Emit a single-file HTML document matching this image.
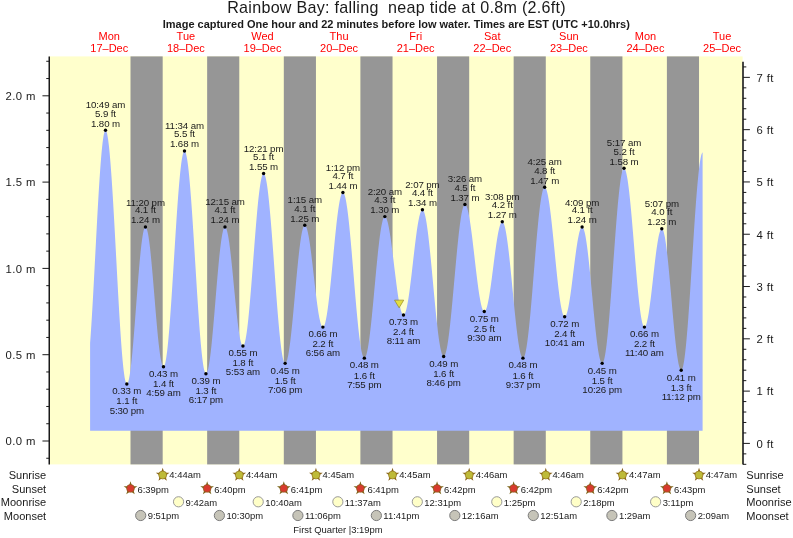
<!DOCTYPE html>
<html><head><meta charset="utf-8"><title>Rainbow Bay tide chart</title>
<style>html,body{margin:0;padding:0;background:#fff;}svg{display:block;will-change:transform;}text{font-family:"Liberation Sans",sans-serif;}</style>
</head><body>
<svg width="793" height="538" viewBox="0 0 793 538" font-family="Liberation Sans, sans-serif">
<rect width="793" height="538" fill="#fff"/>
<rect x="49.0" y="56.4" width="693.60" height="408.00" fill="#FFFFCC"/>
<rect x="130.50" y="56.4" width="32.18" height="408.00" fill="#969696"/>
<rect x="207.15" y="56.4" width="32.13" height="408.00" fill="#969696"/>
<rect x="283.81" y="56.4" width="32.13" height="408.00" fill="#969696"/>
<rect x="360.40" y="56.4" width="32.13" height="408.00" fill="#969696"/>
<rect x="437.06" y="56.4" width="32.13" height="408.00" fill="#969696"/>
<rect x="513.65" y="56.4" width="32.13" height="408.00" fill="#969696"/>
<rect x="590.25" y="56.4" width="32.18" height="408.00" fill="#969696"/>
<rect x="666.90" y="56.4" width="32.13" height="408.00" fill="#969696"/>
<path d="M90.10,430.70 L90.10,343.05 L90.60,336.19 L91.10,328.84 L91.60,321.04 L92.10,312.84 L92.60,304.29 L93.10,295.44 L93.60,286.34 L94.10,277.05 L94.60,267.62 L95.10,258.11 L95.60,248.57 L96.10,239.06 L96.60,229.64 L97.10,220.37 L97.60,211.29 L98.10,202.47 L98.60,193.96 L99.11,185.80 L99.61,178.05 L100.11,170.75 L100.61,163.95 L101.11,157.68 L101.61,151.98 L102.11,146.89 L102.61,142.44 L103.11,138.66 L103.61,135.56 L104.11,133.17 L104.61,131.49 L105.11,130.55 L105.50,130.32 L105.61,130.34 L106.11,130.83 L106.61,132.01 L107.11,133.87 L107.61,136.39 L108.11,139.58 L108.61,143.40 L109.11,147.84 L109.61,152.87 L110.11,158.47 L110.61,164.61 L111.11,171.25 L111.62,178.35 L112.12,185.89 L112.62,193.81 L113.12,202.07 L113.62,210.63 L114.12,219.45 L114.62,228.47 L115.12,237.65 L115.62,246.93 L116.12,256.27 L116.62,265.61 L117.12,274.91 L117.62,284.11 L118.12,293.17 L118.62,302.03 L119.12,310.64 L119.62,318.97 L120.12,326.96 L120.62,334.57 L121.12,341.76 L121.62,348.50 L122.12,354.73 L122.62,360.44 L123.12,365.59 L123.63,370.14 L124.13,374.09 L124.63,377.40 L125.13,380.06 L125.63,382.05 L126.13,383.36 L126.63,383.98 L126.83,384.04 L127.13,383.94 L127.63,383.34 L128.13,382.17 L128.63,380.46 L129.13,378.22 L129.63,375.46 L130.13,372.20 L130.63,368.46 L131.13,364.28 L131.63,359.67 L132.13,354.68 L132.63,349.34 L133.13,343.69 L133.63,337.77 L134.13,331.62 L134.63,325.28 L135.13,318.79 L135.63,312.22 L136.14,305.60 L136.64,298.97 L137.14,292.40 L137.64,285.91 L138.14,279.57 L138.64,273.41 L139.14,267.48 L139.64,261.82 L140.14,256.47 L140.64,251.47 L141.14,246.86 L141.64,242.66 L142.14,238.91 L142.64,235.64 L143.14,232.87 L143.64,230.61 L144.14,228.88 L144.64,227.71 L145.14,227.08 L145.45,226.98 L145.64,227.02 L146.14,227.48 L146.64,228.48 L147.14,230.00 L147.64,232.02 L148.15,234.54 L148.65,237.53 L149.15,240.97 L149.65,244.83 L150.15,249.09 L150.65,253.72 L151.15,258.67 L151.65,263.91 L152.15,269.40 L152.65,275.10 L153.15,280.97 L153.65,286.96 L154.15,293.02 L154.65,299.11 L155.15,305.19 L155.65,311.20 L156.15,317.10 L156.65,322.85 L157.15,328.40 L157.65,333.72 L158.15,338.75 L158.65,343.46 L159.15,347.82 L159.65,351.80 L160.15,355.36 L160.66,358.47 L161.16,361.11 L161.66,363.27 L162.16,364.92 L162.66,366.06 L163.16,366.67 L163.48,366.78 L163.66,366.75 L164.16,366.23 L164.66,365.12 L165.16,363.41 L165.66,361.12 L166.16,358.26 L166.66,354.84 L167.16,350.88 L167.66,346.41 L168.16,341.45 L168.66,336.03 L169.16,330.17 L169.66,323.92 L170.16,317.30 L170.66,310.36 L171.16,303.13 L171.66,295.65 L172.16,287.97 L172.67,280.12 L173.17,272.15 L173.67,264.11 L174.17,256.05 L174.67,247.99 L175.17,240.00 L175.67,232.12 L176.17,224.38 L176.67,216.84 L177.17,209.53 L177.67,202.50 L178.17,195.78 L178.67,189.42 L179.17,183.45 L179.67,177.89 L180.17,172.80 L180.67,168.18 L181.17,164.07 L181.67,160.49 L182.17,157.47 L182.67,155.01 L183.17,153.13 L183.67,151.84 L184.17,151.16 L184.49,151.03 L184.67,151.07 L185.18,151.59 L185.68,152.70 L186.18,154.40 L186.68,156.68 L187.18,159.52 L187.68,162.92 L188.18,166.86 L188.68,171.31 L189.18,176.25 L189.68,181.65 L190.18,187.48 L190.68,193.72 L191.18,200.33 L191.68,207.27 L192.18,214.50 L192.68,222.00 L193.18,229.71 L193.68,237.59 L194.18,245.61 L194.68,253.72 L195.18,261.88 L195.68,270.03 L196.18,278.15 L196.68,286.18 L197.19,294.09 L197.69,301.82 L198.19,309.34 L198.69,316.61 L199.19,323.59 L199.69,330.24 L200.19,336.52 L200.69,342.40 L201.19,347.86 L201.69,352.85 L202.19,357.36 L202.69,361.36 L203.19,364.82 L203.69,367.74 L204.19,370.08 L204.69,371.85 L205.19,373.03 L205.69,373.62 L205.93,373.69 L206.19,373.62 L206.69,373.11 L207.19,372.10 L207.69,370.61 L208.19,368.63 L208.69,366.20 L209.19,363.31 L209.70,359.99 L210.20,356.27 L210.70,352.17 L211.20,347.71 L211.70,342.93 L212.20,337.86 L212.70,332.54 L213.20,326.99 L213.70,321.27 L214.20,315.40 L214.70,309.43 L215.20,303.40 L215.70,297.34 L216.20,291.31 L216.70,285.34 L217.20,279.47 L217.70,273.74 L218.20,268.19 L218.70,262.86 L219.20,257.79 L219.70,253.01 L220.20,248.55 L220.70,244.44 L221.20,240.71 L221.71,237.39 L222.21,234.50 L222.71,232.05 L223.21,230.08 L223.71,228.57 L224.21,227.56 L224.71,227.05 L224.97,226.98 L225.21,227.03 L225.71,227.46 L226.21,228.36 L226.71,229.69 L227.21,231.46 L227.71,233.65 L228.21,236.24 L228.71,239.22 L229.21,242.56 L229.71,246.24 L230.21,250.22 L230.71,254.48 L231.21,258.98 L231.71,263.70 L232.21,268.59 L232.71,273.62 L233.21,278.74 L233.71,283.93 L234.22,289.13 L234.72,294.32 L235.22,299.44 L235.72,304.47 L236.22,309.36 L236.72,314.08 L237.22,318.58 L237.72,322.84 L238.22,326.82 L238.72,330.50 L239.22,333.83 L239.72,336.81 L240.22,339.40 L240.72,341.59 L241.22,343.36 L241.72,344.69 L242.22,345.58 L242.72,346.02 L242.95,346.07 L243.22,346.00 L243.72,345.48 L244.22,344.46 L244.72,342.96 L245.22,340.97 L245.72,338.51 L246.23,335.59 L246.73,332.24 L247.23,328.46 L247.73,324.28 L248.23,319.74 L248.73,314.84 L249.23,309.62 L249.73,304.12 L250.23,298.35 L250.73,292.37 L251.23,286.19 L251.73,279.87 L252.23,273.42 L252.73,266.90 L253.23,260.33 L253.73,253.76 L254.23,247.23 L254.73,240.77 L255.23,234.42 L255.73,228.21 L256.23,222.19 L256.73,216.39 L257.23,210.84 L257.73,205.57 L258.23,200.62 L258.74,196.01 L259.24,191.77 L259.74,187.92 L260.24,184.49 L260.74,181.50 L261.24,178.96 L261.74,176.89 L262.24,175.30 L262.74,174.20 L263.24,173.60 L263.59,173.47 L263.74,173.49 L264.24,173.89 L264.74,174.80 L265.24,176.20 L265.74,178.09 L266.24,180.46 L266.74,183.30 L267.24,186.60 L267.74,190.33 L268.24,194.47 L268.74,199.01 L269.24,203.92 L269.74,209.17 L270.24,214.74 L270.75,220.59 L271.25,226.69 L271.75,233.02 L272.25,239.54 L272.75,246.21 L273.25,253.00 L273.75,259.87 L274.25,266.78 L274.75,273.71 L275.25,280.61 L275.75,287.44 L276.25,294.17 L276.75,300.76 L277.25,307.18 L277.75,313.39 L278.25,319.37 L278.75,325.07 L279.25,330.47 L279.75,335.54 L280.25,340.26 L280.75,344.59 L281.25,348.52 L281.75,352.02 L282.25,355.07 L282.75,357.66 L283.26,359.78 L283.76,361.41 L284.26,362.55 L284.76,363.18 L285.14,363.33 L285.26,363.32 L285.76,362.99 L286.26,362.22 L286.76,361.02 L287.26,359.39 L287.76,357.34 L288.26,354.88 L288.76,352.04 L289.26,348.83 L289.76,345.27 L290.26,341.38 L290.76,337.19 L291.26,332.72 L291.76,328.01 L292.26,323.08 L292.76,317.97 L293.26,312.71 L293.76,307.32 L294.26,301.86 L294.76,296.34 L295.27,290.81 L295.77,285.31 L296.27,279.86 L296.77,274.51 L297.27,269.28 L297.77,264.21 L298.27,259.33 L298.77,254.68 L299.27,250.29 L299.77,246.17 L300.27,242.36 L300.77,238.89 L301.27,235.77 L301.77,233.03 L302.27,230.68 L302.77,228.73 L303.27,227.21 L303.77,226.12 L304.27,225.46 L304.76,225.25 L304.77,225.25 L305.27,225.45 L305.77,226.03 L306.27,226.98 L306.77,228.30 L307.27,229.99 L307.78,232.02 L308.28,234.38 L308.78,237.05 L309.28,240.02 L309.78,243.26 L310.28,246.75 L310.78,250.46 L311.28,254.36 L311.78,258.42 L312.28,262.62 L312.78,266.92 L313.28,271.29 L313.78,275.69 L314.28,280.10 L314.78,284.48 L315.28,288.80 L315.78,293.02 L316.28,297.12 L316.78,301.05 L317.28,304.81 L317.78,308.34 L318.28,311.64 L318.78,314.67 L319.28,317.41 L319.79,319.84 L320.29,321.94 L320.79,323.70 L321.29,325.10 L321.79,326.13 L322.29,326.79 L322.79,327.07 L322.90,327.08 L323.29,326.96 L323.79,326.43 L324.29,325.50 L324.79,324.15 L325.29,322.41 L325.79,320.28 L326.29,317.78 L326.79,314.92 L327.29,311.72 L327.79,308.20 L328.29,304.38 L328.79,300.28 L329.29,295.94 L329.79,291.37 L330.29,286.60 L330.79,281.67 L331.29,276.61 L331.79,271.44 L332.30,266.20 L332.80,260.91 L333.30,255.63 L333.80,250.36 L334.30,245.16 L334.80,240.04 L335.30,235.05 L335.80,230.21 L336.30,225.55 L336.80,221.11 L337.30,216.90 L337.80,212.96 L338.30,209.30 L338.80,205.96 L339.30,202.95 L339.80,200.29 L340.30,198.00 L340.80,196.09 L341.30,194.57 L341.80,193.46 L342.30,192.76 L342.80,192.46 L342.90,192.46 L343.30,192.60 L343.80,193.18 L344.31,194.20 L344.81,195.65 L345.31,197.53 L345.81,199.84 L346.31,202.54 L346.81,205.64 L347.31,209.12 L347.81,212.94 L348.31,217.11 L348.81,221.59 L349.31,226.35 L349.81,231.38 L350.31,236.64 L350.81,242.12 L351.31,247.77 L351.81,253.57 L352.31,259.48 L352.81,265.48 L353.31,271.54 L353.81,277.61 L354.31,283.67 L354.81,289.69 L355.31,295.63 L355.81,301.46 L356.31,307.15 L356.82,312.67 L357.32,317.99 L357.82,323.07 L358.32,327.90 L358.82,332.45 L359.32,336.69 L359.82,340.61 L360.32,344.17 L360.82,347.36 L361.32,350.16 L361.82,352.56 L362.32,354.54 L362.82,356.10 L363.32,357.23 L363.82,357.91 L364.32,358.15 L364.34,358.15 L364.82,357.96 L365.32,357.35 L365.82,356.33 L366.32,354.91 L366.82,353.08 L367.32,350.87 L367.82,348.29 L368.32,345.35 L368.83,342.06 L369.33,338.45 L369.83,334.55 L370.33,330.36 L370.83,325.92 L371.33,321.26 L371.83,316.39 L372.33,311.36 L372.83,306.18 L373.33,300.89 L373.83,295.53 L374.33,290.11 L374.83,284.68 L375.33,279.27 L375.83,273.90 L376.33,268.61 L376.83,263.43 L377.33,258.40 L377.83,253.53 L378.33,248.87 L378.83,244.43 L379.33,240.24 L379.83,236.33 L380.33,232.73 L380.83,229.44 L381.34,226.50 L381.84,223.91 L382.34,221.70 L382.84,219.87 L383.34,218.44 L383.84,217.42 L384.34,216.81 L384.82,216.62 L384.84,216.62 L385.34,216.81 L385.84,217.34 L386.34,218.22 L386.84,219.43 L387.34,220.98 L387.84,222.84 L388.34,225.00 L388.84,227.46 L389.34,230.18 L389.84,233.16 L390.34,236.37 L390.84,239.79 L391.34,243.39 L391.84,247.15 L392.34,251.05 L392.84,255.05 L393.35,259.12 L393.85,263.24 L394.35,267.38 L394.85,271.51 L395.35,275.60 L395.85,279.62 L396.35,283.54 L396.85,287.34 L397.35,290.98 L397.85,294.45 L398.35,297.71 L398.85,300.75 L399.35,303.53 L399.85,306.06 L400.35,308.29 L400.85,310.23 L401.35,311.85 L401.85,313.14 L402.35,314.10 L402.85,314.72 L403.35,314.99 L403.49,315.00 L403.85,314.91 L404.35,314.46 L404.85,313.66 L405.36,312.51 L405.86,311.01 L406.36,309.17 L406.86,307.01 L407.36,304.55 L407.86,301.79 L408.36,298.76 L408.86,295.48 L409.36,291.98 L409.86,288.26 L410.36,284.37 L410.86,280.33 L411.36,276.17 L411.86,271.91 L412.36,267.58 L412.86,263.22 L413.36,258.85 L413.86,254.51 L414.36,250.22 L414.86,246.02 L415.36,241.92 L415.86,237.97 L416.36,234.19 L416.86,230.59 L417.36,227.22 L417.87,224.09 L418.37,221.23 L418.87,218.64 L419.37,216.36 L419.87,214.40 L420.37,212.76 L420.87,211.47 L421.37,210.53 L421.87,209.94 L422.37,209.72 L422.43,209.72 L422.87,209.87 L423.37,210.43 L423.87,211.38 L424.37,212.73 L424.87,214.46 L425.37,216.57 L425.87,219.04 L426.37,221.86 L426.87,225.02 L427.37,228.50 L427.87,232.28 L428.37,236.34 L428.87,240.65 L429.37,245.19 L429.88,249.94 L430.38,254.88 L430.88,259.97 L431.38,265.18 L431.88,270.50 L432.38,275.88 L432.88,281.30 L433.38,286.73 L433.88,292.15 L434.38,297.51 L434.88,302.79 L435.38,307.96 L435.88,313.00 L436.38,317.88 L436.88,322.56 L437.38,327.03 L437.88,331.25 L438.38,335.21 L438.88,338.89 L439.38,342.26 L439.88,345.30 L440.38,348.01 L440.88,350.35 L441.38,352.33 L441.88,353.93 L442.39,355.14 L442.89,355.95 L443.39,356.37 L443.65,356.43 L443.89,356.38 L444.39,355.98 L444.89,355.17 L445.39,353.95 L445.89,352.33 L446.39,350.31 L446.89,347.92 L447.39,345.16 L447.89,342.04 L448.39,338.59 L448.89,334.82 L449.39,330.76 L449.89,326.42 L450.39,321.83 L450.89,317.02 L451.39,312.00 L451.89,306.81 L452.39,301.48 L452.89,296.04 L453.39,290.51 L453.89,284.93 L454.40,279.32 L454.90,273.71 L455.40,268.15 L455.90,262.65 L456.40,257.25 L456.90,251.98 L457.40,246.86 L457.90,241.92 L458.40,237.20 L458.90,232.71 L459.40,228.48 L459.90,224.54 L460.40,220.90 L460.90,217.59 L461.40,214.62 L461.90,212.01 L462.40,209.77 L462.90,207.92 L463.40,206.46 L463.90,205.41 L464.40,204.77 L464.90,204.54 L464.93,204.54 L465.40,204.70 L465.90,205.21 L466.40,206.06 L466.91,207.26 L467.41,208.80 L467.91,210.66 L468.41,212.83 L468.91,215.30 L469.41,218.05 L469.91,221.06 L470.41,224.32 L470.91,227.80 L471.41,231.48 L471.91,235.33 L472.41,239.34 L472.91,243.46 L473.41,247.69 L473.91,251.98 L474.41,256.31 L474.91,260.65 L475.41,264.98 L475.91,269.26 L476.41,273.47 L476.91,277.57 L477.41,281.55 L477.91,285.37 L478.41,289.01 L478.92,292.45 L479.42,295.66 L479.92,298.62 L480.42,301.31 L480.92,303.72 L481.42,305.83 L481.92,307.63 L482.42,309.09 L482.92,310.23 L483.42,311.01 L483.92,311.45 L484.29,311.55 L484.42,311.54 L484.92,311.28 L485.42,310.68 L485.92,309.75 L486.42,308.48 L486.92,306.90 L487.42,305.00 L487.92,302.82 L488.42,300.36 L488.92,297.64 L489.42,294.69 L489.92,291.52 L490.42,288.16 L490.92,284.64 L491.43,280.98 L491.93,277.21 L492.43,273.36 L492.93,269.46 L493.43,265.54 L493.93,261.62 L494.43,257.75 L494.93,253.94 L495.43,250.23 L495.93,246.65 L496.43,243.22 L496.93,239.97 L497.43,236.92 L497.93,234.10 L498.43,231.53 L498.93,229.23 L499.43,227.21 L499.93,225.50 L500.43,224.09 L500.93,223.02 L501.43,222.28 L501.93,221.88 L502.27,221.80 L502.43,221.82 L502.93,222.14 L503.44,222.86 L503.94,223.96 L504.44,225.45 L504.94,227.30 L505.44,229.52 L505.94,232.09 L506.44,234.99 L506.94,238.20 L507.44,241.72 L507.94,245.52 L508.44,249.57 L508.94,253.85 L509.44,258.34 L509.94,263.02 L510.44,267.85 L510.94,272.81 L511.44,277.87 L511.94,282.99 L512.44,288.16 L512.94,293.34 L513.44,298.50 L513.94,303.61 L514.44,308.64 L514.94,313.56 L515.44,318.35 L515.95,322.97 L516.45,327.41 L516.95,331.62 L517.45,335.60 L517.95,339.31 L518.45,342.74 L518.95,345.87 L519.45,348.67 L519.95,351.13 L520.45,353.24 L520.95,354.99 L521.45,356.36 L521.95,357.35 L522.45,357.95 L522.95,358.15 L522.96,358.15 L523.45,357.94 L523.95,357.28 L524.45,356.18 L524.95,354.64 L525.45,352.67 L525.95,350.28 L526.45,347.48 L526.95,344.29 L527.45,340.73 L527.96,336.80 L528.46,332.55 L528.96,327.98 L529.46,323.12 L529.96,317.99 L530.46,312.63 L530.96,307.06 L531.46,301.31 L531.96,295.40 L532.46,289.38 L532.96,283.27 L533.46,277.11 L533.96,270.92 L534.46,264.75 L534.96,258.61 L535.46,252.55 L535.96,246.59 L536.46,240.78 L536.96,235.12 L537.46,229.67 L537.96,224.44 L538.46,219.47 L538.96,214.77 L539.46,210.38 L539.96,206.31 L540.47,202.60 L540.97,199.25 L541.47,196.28 L541.97,193.72 L542.47,191.57 L542.97,189.85 L543.47,188.56 L543.97,187.71 L544.47,187.31 L544.67,187.28 L544.97,187.35 L545.47,187.79 L545.97,188.63 L546.47,189.86 L546.97,191.47 L547.47,193.46 L547.97,195.80 L548.47,198.50 L548.97,201.52 L549.47,204.86 L549.97,208.49 L550.47,212.39 L550.97,216.53 L551.47,220.89 L551.97,225.44 L552.48,230.16 L552.98,235.01 L553.48,239.96 L553.98,245.00 L554.48,250.07 L554.98,255.16 L555.48,260.22 L555.98,265.24 L556.48,270.17 L556.98,274.99 L557.48,279.67 L557.98,284.18 L558.48,288.49 L558.98,292.58 L559.48,296.41 L559.98,299.97 L560.48,303.24 L560.98,306.18 L561.48,308.80 L561.98,311.06 L562.48,312.96 L562.98,314.48 L563.48,315.61 L563.98,316.36 L564.48,316.70 L564.67,316.73 L564.99,316.65 L565.49,316.24 L565.99,315.47 L566.49,314.34 L566.99,312.87 L567.49,311.07 L567.99,308.94 L568.49,306.52 L568.99,303.82 L569.49,300.85 L569.99,297.65 L570.49,294.24 L570.99,290.65 L571.49,286.91 L571.99,283.05 L572.49,279.09 L572.99,275.07 L573.49,271.03 L573.99,267.00 L574.49,263.01 L574.99,259.08 L575.49,255.26 L575.99,251.58 L576.49,248.06 L577.00,244.73 L577.50,241.62 L578.00,238.76 L578.50,236.17 L579.00,233.86 L579.50,231.87 L580.00,230.20 L580.50,228.86 L581.00,227.88 L581.50,227.25 L582.00,226.99 L582.11,226.98 L582.50,227.10 L583.00,227.63 L583.50,228.58 L584.00,229.93 L584.50,231.69 L585.00,233.83 L585.50,236.35 L586.00,239.23 L586.50,242.46 L587.00,246.01 L587.50,249.86 L588.00,253.99 L588.50,258.37 L589.00,262.98 L589.51,267.79 L590.01,272.76 L590.51,277.88 L591.01,283.09 L591.51,288.39 L592.01,293.72 L592.51,299.06 L593.01,304.38 L593.51,309.64 L594.01,314.81 L594.51,319.87 L595.01,324.77 L595.51,329.48 L596.01,333.99 L596.51,338.26 L597.01,342.26 L597.51,345.98 L598.01,349.38 L598.51,352.45 L599.01,355.17 L599.51,357.52 L600.01,359.48 L600.51,361.05 L601.01,362.22 L601.52,362.97 L602.02,363.31 L602.17,363.33 L602.52,363.21 L603.02,362.61 L603.52,361.51 L604.02,359.91 L604.52,357.83 L605.02,355.27 L605.52,352.25 L606.02,348.78 L606.52,344.89 L607.02,340.58 L607.52,335.89 L608.02,330.84 L608.52,325.45 L609.02,319.75 L609.52,313.77 L610.02,307.55 L610.52,301.11 L611.02,294.49 L611.52,287.72 L612.02,280.83 L612.52,273.87 L613.02,266.87 L613.52,259.86 L614.03,252.88 L614.53,245.97 L615.03,239.16 L615.53,232.49 L616.03,225.99 L616.53,219.70 L617.03,213.64 L617.53,207.86 L618.03,202.37 L618.53,197.22 L619.03,192.41 L619.53,187.99 L620.03,183.97 L620.53,180.37 L621.03,177.21 L621.53,174.52 L622.03,172.29 L622.53,170.55 L623.03,169.29 L623.53,168.54 L624.03,168.29 L624.03,168.29 L624.53,168.53 L625.03,169.24 L625.53,170.42 L626.04,172.05 L626.54,174.14 L627.04,176.66 L627.54,179.61 L628.04,182.96 L628.54,186.70 L629.04,190.80 L629.54,195.24 L630.04,199.99 L630.54,205.03 L631.04,210.31 L631.54,215.83 L632.04,221.53 L632.54,227.38 L633.04,233.36 L633.54,239.42 L634.04,245.53 L634.54,251.66 L635.04,257.76 L635.54,263.80 L636.04,269.75 L636.54,275.56 L637.04,281.21 L637.54,286.66 L638.04,291.87 L638.55,296.83 L639.05,301.49 L639.55,305.83 L640.05,309.82 L640.55,313.45 L641.05,316.68 L641.55,319.51 L642.05,321.90 L642.55,323.86 L643.05,325.36 L643.55,326.40 L644.05,326.97 L644.40,327.08 L644.55,327.07 L645.05,326.75 L645.55,326.03 L646.05,324.92 L646.55,323.43 L647.05,321.56 L647.55,319.34 L648.05,316.78 L648.55,313.90 L649.05,310.73 L649.55,307.29 L650.05,303.61 L650.56,299.72 L651.06,295.66 L651.56,291.44 L652.06,287.12 L652.56,282.72 L653.06,278.28 L653.56,273.84 L654.06,269.43 L654.56,265.10 L655.06,260.86 L655.56,256.77 L656.06,252.84 L656.56,249.12 L657.06,245.64 L657.56,242.42 L658.06,239.49 L658.56,236.87 L659.06,234.59 L659.56,232.66 L660.06,231.10 L660.56,229.92 L661.06,229.13 L661.56,228.75 L661.80,228.70 L662.06,228.77 L662.56,229.25 L663.07,230.18 L663.57,231.58 L664.07,233.41 L664.57,235.68 L665.07,238.37 L665.57,241.46 L666.07,244.93 L666.57,248.75 L667.07,252.91 L667.57,257.37 L668.07,262.11 L668.57,267.10 L669.07,272.29 L669.57,277.67 L670.07,283.18 L670.57,288.81 L671.07,294.50 L671.57,300.23 L672.07,305.95 L672.57,311.63 L673.07,317.22 L673.57,322.71 L674.07,328.04 L674.57,333.18 L675.08,338.10 L675.58,342.77 L676.08,347.16 L676.58,351.23 L677.08,354.96 L677.58,358.33 L678.08,361.32 L678.58,363.89 L679.08,366.05 L679.58,367.77 L680.08,369.04 L680.58,369.86 L681.08,370.22 L681.21,370.23 L681.58,370.08 L682.08,369.37 L682.58,368.10 L683.08,366.26 L683.58,363.86 L684.08,360.93 L684.58,357.47 L685.08,353.51 L685.58,349.06 L686.08,344.14 L686.58,338.79 L687.08,333.03 L687.59,326.90 L688.09,320.41 L688.59,313.62 L689.09,306.55 L689.59,299.24 L690.09,291.73 L690.59,284.06 L691.09,276.27 L691.59,268.40 L692.09,260.50 L692.59,252.59 L693.09,244.73 L693.59,236.96 L694.09,229.32 L694.59,221.85 L695.09,214.58 L695.59,207.56 L696.09,200.82 L696.59,194.40 L697.09,188.34 L697.59,182.65 L698.09,177.38 L698.59,172.56 L699.09,168.20 L699.60,164.32 L700.10,160.97 L700.60,158.13 L701.10,155.85 L701.60,154.11 L702.10,152.94 L702.60,152.35 L702.60,430.70 Z" fill="#A0B3FF"/>
<polygon points="394.53,300.14 403.73,300.14 399.13,307.84" fill="#E2DE40" stroke="#8A7A18" stroke-width="0.6"/>
<g font-size="9.7" fill="#1a1a1a" text-anchor="middle" letter-spacing="-0.1">
<circle cx="105.50" cy="130.32" r="1.7" fill="#000"/>
<text x="105.50" y="108.22">10:49 am</text>
<text x="105.50" y="116.72">5.9 ft</text>
<text x="105.50" y="126.62">1.80 m</text>
<circle cx="126.83" cy="384.04" r="1.7" fill="#000"/>
<text x="126.83" y="394.34">0.33 m</text>
<text x="126.83" y="404.44">1.1 ft</text>
<text x="126.83" y="413.84">5:30 pm</text>
<circle cx="145.45" cy="226.98" r="1.7" fill="#000"/>
<text x="145.45" y="205.58">11:20 pm</text>
<text x="145.45" y="213.38">4.1 ft</text>
<text x="145.45" y="223.28">1.24 m</text>
<circle cx="163.48" cy="366.78" r="1.7" fill="#000"/>
<text x="163.48" y="377.08">0.43 m</text>
<text x="163.48" y="387.18">1.4 ft</text>
<text x="163.48" y="396.08">4:59 am</text>
<circle cx="184.49" cy="151.03" r="1.7" fill="#000"/>
<text x="184.49" y="128.93">11:34 am</text>
<text x="184.49" y="137.43">5.5 ft</text>
<text x="184.49" y="147.33">1.68 m</text>
<circle cx="205.93" cy="373.69" r="1.7" fill="#000"/>
<text x="205.93" y="383.99">0.39 m</text>
<text x="205.93" y="394.09">1.3 ft</text>
<text x="205.93" y="403.49">6:17 pm</text>
<circle cx="224.97" cy="226.98" r="1.7" fill="#000"/>
<text x="224.97" y="204.88">12:15 am</text>
<text x="224.97" y="213.38">4.1 ft</text>
<text x="224.97" y="223.28">1.24 m</text>
<circle cx="242.95" cy="346.07" r="1.7" fill="#000"/>
<text x="242.95" y="356.37">0.55 m</text>
<text x="242.95" y="366.47">1.8 ft</text>
<text x="242.95" y="375.37">5:53 am</text>
<circle cx="263.59" cy="173.47" r="1.7" fill="#000"/>
<text x="263.59" y="152.07">12:21 pm</text>
<text x="263.59" y="159.87">5.1 ft</text>
<text x="263.59" y="169.77">1.55 m</text>
<circle cx="285.14" cy="363.33" r="1.7" fill="#000"/>
<text x="285.14" y="373.63">0.45 m</text>
<text x="285.14" y="383.73">1.5 ft</text>
<text x="285.14" y="393.13">7:06 pm</text>
<circle cx="304.76" cy="225.25" r="1.7" fill="#000"/>
<text x="304.76" y="203.15">1:15 am</text>
<text x="304.76" y="211.65">4.1 ft</text>
<text x="304.76" y="221.55">1.25 m</text>
<circle cx="322.90" cy="327.08" r="1.7" fill="#000"/>
<text x="322.90" y="337.38">0.66 m</text>
<text x="322.90" y="347.48">2.2 ft</text>
<text x="322.90" y="356.38">6:56 am</text>
<circle cx="342.90" cy="192.46" r="1.7" fill="#000"/>
<text x="342.90" y="171.06">1:12 pm</text>
<text x="342.90" y="178.86">4.7 ft</text>
<text x="342.90" y="188.76">1.44 m</text>
<circle cx="364.34" cy="358.15" r="1.7" fill="#000"/>
<text x="364.34" y="368.45">0.48 m</text>
<text x="364.34" y="378.55">1.6 ft</text>
<text x="364.34" y="387.95">7:55 pm</text>
<circle cx="384.82" cy="216.62" r="1.7" fill="#000"/>
<text x="384.82" y="194.52">2:20 am</text>
<text x="384.82" y="203.02">4.3 ft</text>
<text x="384.82" y="212.92">1.30 m</text>
<circle cx="403.49" cy="315.00" r="1.7" fill="#000"/>
<text x="403.49" y="325.30">0.73 m</text>
<text x="403.49" y="335.40">2.4 ft</text>
<text x="403.49" y="344.30">8:11 am</text>
<circle cx="422.43" cy="209.72" r="1.7" fill="#000"/>
<text x="422.43" y="188.32">2:07 pm</text>
<text x="422.43" y="196.12">4.4 ft</text>
<text x="422.43" y="206.02">1.34 m</text>
<circle cx="443.65" cy="356.43" r="1.7" fill="#000"/>
<text x="443.65" y="366.73">0.49 m</text>
<text x="443.65" y="376.83">1.6 ft</text>
<text x="443.65" y="386.23">8:46 pm</text>
<circle cx="464.93" cy="204.54" r="1.7" fill="#000"/>
<text x="464.93" y="182.44">3:26 am</text>
<text x="464.93" y="190.94">4.5 ft</text>
<text x="464.93" y="200.84">1.37 m</text>
<circle cx="484.29" cy="311.55" r="1.7" fill="#000"/>
<text x="484.29" y="321.85">0.75 m</text>
<text x="484.29" y="331.95">2.5 ft</text>
<text x="484.29" y="340.85">9:30 am</text>
<circle cx="502.27" cy="221.80" r="1.7" fill="#000"/>
<text x="502.27" y="200.40">3:08 pm</text>
<text x="502.27" y="208.20">4.2 ft</text>
<text x="502.27" y="218.10">1.27 m</text>
<circle cx="522.96" cy="358.15" r="1.7" fill="#000"/>
<text x="522.96" y="368.45">0.48 m</text>
<text x="522.96" y="378.55">1.6 ft</text>
<text x="522.96" y="387.95">9:37 pm</text>
<circle cx="544.67" cy="187.28" r="1.7" fill="#000"/>
<text x="544.67" y="165.18">4:25 am</text>
<text x="544.67" y="173.68">4.8 ft</text>
<text x="544.67" y="183.58">1.47 m</text>
<circle cx="564.67" cy="316.73" r="1.7" fill="#000"/>
<text x="564.67" y="327.03">0.72 m</text>
<text x="564.67" y="337.13">2.4 ft</text>
<text x="564.67" y="346.03">10:41 am</text>
<circle cx="582.11" cy="226.98" r="1.7" fill="#000"/>
<text x="582.11" y="205.58">4:09 pm</text>
<text x="582.11" y="213.38">4.1 ft</text>
<text x="582.11" y="223.28">1.24 m</text>
<circle cx="602.17" cy="363.33" r="1.7" fill="#000"/>
<text x="602.17" y="373.63">0.45 m</text>
<text x="602.17" y="383.73">1.5 ft</text>
<text x="602.17" y="393.13">10:26 pm</text>
<circle cx="624.03" cy="168.29" r="1.7" fill="#000"/>
<text x="624.03" y="146.19">5:17 am</text>
<text x="624.03" y="154.69">5.2 ft</text>
<text x="624.03" y="164.59">1.58 m</text>
<circle cx="644.40" cy="327.08" r="1.7" fill="#000"/>
<text x="644.40" y="337.38">0.66 m</text>
<text x="644.40" y="347.48">2.2 ft</text>
<text x="644.40" y="356.38">11:40 am</text>
<circle cx="661.80" cy="228.70" r="1.7" fill="#000"/>
<text x="661.80" y="207.30">5:07 pm</text>
<text x="661.80" y="215.10">4.0 ft</text>
<text x="661.80" y="225.00">1.23 m</text>
<circle cx="681.21" cy="370.23" r="1.7" fill="#000"/>
<text x="681.21" y="380.53">0.41 m</text>
<text x="681.21" y="390.63">1.3 ft</text>
<text x="681.21" y="400.03">11:12 pm</text>
</g>
<line x1="49.25" y1="56.4" x2="49.25" y2="464.4" stroke="#1a1a1a" stroke-width="1.5"/>
<line x1="46.25" y1="458.26" x2="49.25" y2="458.26" stroke="#1a1a1a" stroke-width="1"/>
<line x1="42.45" y1="441.00" x2="49.25" y2="441.00" stroke="#1a1a1a" stroke-width="1"/>
<line x1="46.25" y1="423.74" x2="49.25" y2="423.74" stroke="#1a1a1a" stroke-width="1"/>
<line x1="46.25" y1="406.48" x2="49.25" y2="406.48" stroke="#1a1a1a" stroke-width="1"/>
<line x1="46.25" y1="389.22" x2="49.25" y2="389.22" stroke="#1a1a1a" stroke-width="1"/>
<line x1="46.25" y1="371.96" x2="49.25" y2="371.96" stroke="#1a1a1a" stroke-width="1"/>
<line x1="42.45" y1="354.70" x2="49.25" y2="354.70" stroke="#1a1a1a" stroke-width="1"/>
<line x1="46.25" y1="337.44" x2="49.25" y2="337.44" stroke="#1a1a1a" stroke-width="1"/>
<line x1="46.25" y1="320.18" x2="49.25" y2="320.18" stroke="#1a1a1a" stroke-width="1"/>
<line x1="46.25" y1="302.92" x2="49.25" y2="302.92" stroke="#1a1a1a" stroke-width="1"/>
<line x1="46.25" y1="285.66" x2="49.25" y2="285.66" stroke="#1a1a1a" stroke-width="1"/>
<line x1="42.45" y1="268.40" x2="49.25" y2="268.40" stroke="#1a1a1a" stroke-width="1"/>
<line x1="46.25" y1="251.14" x2="49.25" y2="251.14" stroke="#1a1a1a" stroke-width="1"/>
<line x1="46.25" y1="233.88" x2="49.25" y2="233.88" stroke="#1a1a1a" stroke-width="1"/>
<line x1="46.25" y1="216.62" x2="49.25" y2="216.62" stroke="#1a1a1a" stroke-width="1"/>
<line x1="46.25" y1="199.36" x2="49.25" y2="199.36" stroke="#1a1a1a" stroke-width="1"/>
<line x1="42.45" y1="182.10" x2="49.25" y2="182.10" stroke="#1a1a1a" stroke-width="1"/>
<line x1="46.25" y1="164.84" x2="49.25" y2="164.84" stroke="#1a1a1a" stroke-width="1"/>
<line x1="46.25" y1="147.58" x2="49.25" y2="147.58" stroke="#1a1a1a" stroke-width="1"/>
<line x1="46.25" y1="130.32" x2="49.25" y2="130.32" stroke="#1a1a1a" stroke-width="1"/>
<line x1="46.25" y1="113.06" x2="49.25" y2="113.06" stroke="#1a1a1a" stroke-width="1"/>
<line x1="42.45" y1="95.80" x2="49.25" y2="95.80" stroke="#1a1a1a" stroke-width="1"/>
<line x1="46.25" y1="78.54" x2="49.25" y2="78.54" stroke="#1a1a1a" stroke-width="1"/>
<line x1="46.25" y1="61.28" x2="49.25" y2="61.28" stroke="#1a1a1a" stroke-width="1"/>
<g font-size="11.3" fill="#1a1a1a" text-anchor="end" letter-spacing="0.42">
<text x="35.8" y="445.30">0.0 m</text>
<text x="35.8" y="359.00">0.5 m</text>
<text x="35.8" y="272.70">1.0 m</text>
<text x="35.8" y="186.40">1.5 m</text>
<text x="35.8" y="100.10">2.0 m</text>
</g>
<line x1="743" y1="61.8" x2="743" y2="464.59999999999997" stroke="#1a1a1a" stroke-width="1.6"/>
<line x1="743" y1="464.32" x2="746.30" y2="464.32" stroke="#1a1a1a" stroke-width="1"/>
<line x1="743" y1="453.86" x2="746.30" y2="453.86" stroke="#1a1a1a" stroke-width="1"/>
<line x1="743" y1="443.40" x2="749.90" y2="443.40" stroke="#1a1a1a" stroke-width="1"/>
<line x1="743" y1="432.94" x2="746.30" y2="432.94" stroke="#1a1a1a" stroke-width="1"/>
<line x1="743" y1="422.48" x2="746.30" y2="422.48" stroke="#1a1a1a" stroke-width="1"/>
<line x1="743" y1="412.03" x2="746.30" y2="412.03" stroke="#1a1a1a" stroke-width="1"/>
<line x1="743" y1="401.57" x2="746.30" y2="401.57" stroke="#1a1a1a" stroke-width="1"/>
<line x1="743" y1="391.11" x2="749.90" y2="391.11" stroke="#1a1a1a" stroke-width="1"/>
<line x1="743" y1="380.65" x2="746.30" y2="380.65" stroke="#1a1a1a" stroke-width="1"/>
<line x1="743" y1="370.19" x2="746.30" y2="370.19" stroke="#1a1a1a" stroke-width="1"/>
<line x1="743" y1="359.74" x2="746.30" y2="359.74" stroke="#1a1a1a" stroke-width="1"/>
<line x1="743" y1="349.28" x2="746.30" y2="349.28" stroke="#1a1a1a" stroke-width="1"/>
<line x1="743" y1="338.82" x2="749.90" y2="338.82" stroke="#1a1a1a" stroke-width="1"/>
<line x1="743" y1="328.36" x2="746.30" y2="328.36" stroke="#1a1a1a" stroke-width="1"/>
<line x1="743" y1="317.90" x2="746.30" y2="317.90" stroke="#1a1a1a" stroke-width="1"/>
<line x1="743" y1="307.45" x2="746.30" y2="307.45" stroke="#1a1a1a" stroke-width="1"/>
<line x1="743" y1="296.99" x2="746.30" y2="296.99" stroke="#1a1a1a" stroke-width="1"/>
<line x1="743" y1="286.53" x2="749.90" y2="286.53" stroke="#1a1a1a" stroke-width="1"/>
<line x1="743" y1="276.07" x2="746.30" y2="276.07" stroke="#1a1a1a" stroke-width="1"/>
<line x1="743" y1="265.61" x2="746.30" y2="265.61" stroke="#1a1a1a" stroke-width="1"/>
<line x1="743" y1="255.16" x2="746.30" y2="255.16" stroke="#1a1a1a" stroke-width="1"/>
<line x1="743" y1="244.70" x2="746.30" y2="244.70" stroke="#1a1a1a" stroke-width="1"/>
<line x1="743" y1="234.24" x2="749.90" y2="234.24" stroke="#1a1a1a" stroke-width="1"/>
<line x1="743" y1="223.78" x2="746.30" y2="223.78" stroke="#1a1a1a" stroke-width="1"/>
<line x1="743" y1="213.32" x2="746.30" y2="213.32" stroke="#1a1a1a" stroke-width="1"/>
<line x1="743" y1="202.87" x2="746.30" y2="202.87" stroke="#1a1a1a" stroke-width="1"/>
<line x1="743" y1="192.41" x2="746.30" y2="192.41" stroke="#1a1a1a" stroke-width="1"/>
<line x1="743" y1="181.95" x2="749.90" y2="181.95" stroke="#1a1a1a" stroke-width="1"/>
<line x1="743" y1="171.49" x2="746.30" y2="171.49" stroke="#1a1a1a" stroke-width="1"/>
<line x1="743" y1="161.03" x2="746.30" y2="161.03" stroke="#1a1a1a" stroke-width="1"/>
<line x1="743" y1="150.58" x2="746.30" y2="150.58" stroke="#1a1a1a" stroke-width="1"/>
<line x1="743" y1="140.12" x2="746.30" y2="140.12" stroke="#1a1a1a" stroke-width="1"/>
<line x1="743" y1="129.66" x2="749.90" y2="129.66" stroke="#1a1a1a" stroke-width="1"/>
<line x1="743" y1="119.20" x2="746.30" y2="119.20" stroke="#1a1a1a" stroke-width="1"/>
<line x1="743" y1="108.74" x2="746.30" y2="108.74" stroke="#1a1a1a" stroke-width="1"/>
<line x1="743" y1="98.29" x2="746.30" y2="98.29" stroke="#1a1a1a" stroke-width="1"/>
<line x1="743" y1="87.83" x2="746.30" y2="87.83" stroke="#1a1a1a" stroke-width="1"/>
<line x1="743" y1="77.37" x2="749.90" y2="77.37" stroke="#1a1a1a" stroke-width="1"/>
<line x1="743" y1="66.91" x2="746.30" y2="66.91" stroke="#1a1a1a" stroke-width="1"/>
<g font-size="11.3" fill="#1a1a1a" letter-spacing="0.42">
<text x="756.5" y="447.70">0 ft</text>
<text x="756.5" y="395.41">1 ft</text>
<text x="756.5" y="343.12">2 ft</text>
<text x="756.5" y="290.83">3 ft</text>
<text x="756.5" y="238.54">4 ft</text>
<text x="756.5" y="186.25">5 ft</text>
<text x="756.5" y="133.96">6 ft</text>
<text x="756.5" y="81.67">7 ft</text>
</g>
<text x="396.6" y="13.35" font-size="16.1" letter-spacing="0.28" text-anchor="middle" fill="#1a1a1a">Rainbow Bay: falling&#160; neap tide at 0.8m (2.6ft)</text>
<text x="396.3" y="27.7" font-size="10.97" font-weight="bold" text-anchor="middle" fill="#1a1a1a">Image captured One hour and 22 minutes before low water. Times are EST (UTC +10.0hrs)</text>
<g font-size="11" fill="#FF0000" text-anchor="middle">
<text x="109.28" y="39.7">Mon</text><text x="109.28" y="51.8">17&#8211;Dec</text>
<text x="185.88" y="39.7">Tue</text><text x="185.88" y="51.8">18&#8211;Dec</text>
<text x="262.48" y="39.7">Wed</text><text x="262.48" y="51.8">19&#8211;Dec</text>
<text x="339.07" y="39.7">Thu</text><text x="339.07" y="51.8">20&#8211;Dec</text>
<text x="415.67" y="39.7">Fri</text><text x="415.67" y="51.8">21&#8211;Dec</text>
<text x="492.27" y="39.7">Sat</text><text x="492.27" y="51.8">22&#8211;Dec</text>
<text x="568.87" y="39.7">Sun</text><text x="568.87" y="51.8">23&#8211;Dec</text>
<text x="645.47" y="39.7">Mon</text><text x="645.47" y="51.8">24&#8211;Dec</text>
<text x="722.07" y="39.7">Tue</text><text x="722.07" y="51.8">25&#8211;Dec</text>
</g>
<g font-size="11.05" fill="#1a1a1a">
<text x="46.2" y="478.8" text-anchor="end">Sunrise</text>
<text x="746.3" y="478.8">Sunrise</text>
<text x="46.2" y="492.5" text-anchor="end">Sunset</text>
<text x="746.3" y="492.5">Sunset</text>
<text x="46.2" y="505.8" text-anchor="end">Moonrise</text>
<text x="746.3" y="505.8">Moonrise</text>
<text x="46.2" y="519.7" text-anchor="end">Moonset</text>
<text x="746.3" y="519.7">Moonset</text>
</g>
<g font-size="9.45" fill="#1a1a1a">
<polygon points="162.69,467.80 164.33,472.73 169.53,472.78 165.35,475.87 166.92,480.82 162.69,477.80 158.45,480.82 160.02,475.87 155.84,472.78 161.04,472.73" fill="#8A6418"/><circle cx="162.69" cy="475.0" r="4.0" fill="#BEBA38" stroke="#8A6418" stroke-width="0.6"/>
<text x="169.29" y="477.8">4:44am</text>
<polygon points="239.28,467.80 240.93,472.73 246.13,472.78 241.95,475.87 243.52,480.82 239.28,477.80 235.05,480.82 236.62,475.87 232.44,472.78 237.64,472.73" fill="#8A6418"/><circle cx="239.28" cy="475.0" r="4.0" fill="#BEBA38" stroke="#8A6418" stroke-width="0.6"/>
<text x="245.88" y="477.8">4:44am</text>
<polygon points="315.94,467.80 317.58,472.73 322.78,472.78 318.60,475.87 320.17,480.82 315.94,477.80 311.70,480.82 313.27,475.87 309.09,472.78 314.29,472.73" fill="#8A6418"/><circle cx="315.94" cy="475.0" r="4.0" fill="#BEBA38" stroke="#8A6418" stroke-width="0.6"/>
<text x="322.54" y="477.8">4:45am</text>
<polygon points="392.53,467.80 394.18,472.73 399.38,472.78 395.20,475.87 396.77,480.82 392.53,477.80 388.30,480.82 389.87,475.87 385.69,472.78 390.89,472.73" fill="#8A6418"/><circle cx="392.53" cy="475.0" r="4.0" fill="#BEBA38" stroke="#8A6418" stroke-width="0.6"/>
<text x="399.13" y="477.8">4:45am</text>
<polygon points="469.19,467.80 470.83,472.73 476.03,472.78 471.85,475.87 473.42,480.82 469.19,477.80 464.95,480.82 466.52,475.87 462.34,472.78 467.54,472.73" fill="#8A6418"/><circle cx="469.19" cy="475.0" r="4.0" fill="#BEBA38" stroke="#8A6418" stroke-width="0.6"/>
<text x="475.79" y="477.8">4:46am</text>
<polygon points="545.78,467.80 547.43,472.73 552.63,472.78 548.45,475.87 550.02,480.82 545.78,477.80 541.55,480.82 543.12,475.87 538.94,472.78 544.14,472.73" fill="#8A6418"/><circle cx="545.78" cy="475.0" r="4.0" fill="#BEBA38" stroke="#8A6418" stroke-width="0.6"/>
<text x="552.38" y="477.8">4:46am</text>
<polygon points="622.44,467.80 624.08,472.73 629.28,472.78 625.10,475.87 626.67,480.82 622.44,477.80 618.20,480.82 619.77,475.87 615.59,472.78 620.79,472.73" fill="#8A6418"/><circle cx="622.44" cy="475.0" r="4.0" fill="#BEBA38" stroke="#8A6418" stroke-width="0.6"/>
<text x="629.04" y="477.8">4:47am</text>
<polygon points="699.03,467.80 700.68,472.73 705.88,472.78 701.70,475.87 703.27,480.82 699.03,477.80 694.80,480.82 696.37,475.87 692.19,472.78 697.39,472.73" fill="#8A6418"/><circle cx="699.03" cy="475.0" r="4.0" fill="#BEBA38" stroke="#8A6418" stroke-width="0.6"/>
<text x="705.63" y="477.8">4:47am</text>
<polygon points="130.50,481.20 132.15,486.13 137.35,486.18 133.17,489.27 134.74,494.22 130.50,491.20 126.27,494.22 127.84,489.27 123.66,486.18 128.86,486.13" fill="#7A6418"/><circle cx="130.50" cy="488.4" r="3.9" fill="#D83A2E" stroke="#7A6418" stroke-width="0.6"/>
<text x="137.50" y="492.5">6:39pm</text>
<polygon points="207.15,481.20 208.80,486.13 214.00,486.18 209.82,489.27 211.39,494.22 207.15,491.20 202.92,494.22 204.49,489.27 200.31,486.18 205.51,486.13" fill="#7A6418"/><circle cx="207.15" cy="488.4" r="3.9" fill="#D83A2E" stroke="#7A6418" stroke-width="0.6"/>
<text x="214.15" y="492.5">6:40pm</text>
<polygon points="283.81,481.20 285.45,486.13 290.65,486.18 286.47,489.27 288.04,494.22 283.81,491.20 279.57,494.22 281.14,489.27 276.96,486.18 282.16,486.13" fill="#7A6418"/><circle cx="283.81" cy="488.4" r="3.9" fill="#D83A2E" stroke="#7A6418" stroke-width="0.6"/>
<text x="290.81" y="492.5">6:41pm</text>
<polygon points="360.40,481.20 362.05,486.13 367.25,486.18 363.07,489.27 364.64,494.22 360.40,491.20 356.17,494.22 357.74,489.27 353.56,486.18 358.76,486.13" fill="#7A6418"/><circle cx="360.40" cy="488.4" r="3.9" fill="#D83A2E" stroke="#7A6418" stroke-width="0.6"/>
<text x="367.40" y="492.5">6:41pm</text>
<polygon points="437.06,481.20 438.70,486.13 443.90,486.18 439.72,489.27 441.29,494.22 437.06,491.20 432.82,494.22 434.39,489.27 430.21,486.18 435.41,486.13" fill="#7A6418"/><circle cx="437.06" cy="488.4" r="3.9" fill="#D83A2E" stroke="#7A6418" stroke-width="0.6"/>
<text x="444.06" y="492.5">6:42pm</text>
<polygon points="513.65,481.20 515.30,486.13 520.50,486.18 516.32,489.27 517.89,494.22 513.65,491.20 509.42,494.22 510.99,489.27 506.81,486.18 512.01,486.13" fill="#7A6418"/><circle cx="513.65" cy="488.4" r="3.9" fill="#D83A2E" stroke="#7A6418" stroke-width="0.6"/>
<text x="520.65" y="492.5">6:42pm</text>
<polygon points="590.25,481.20 591.90,486.13 597.10,486.18 592.92,489.27 594.49,494.22 590.25,491.20 586.02,494.22 587.59,489.27 583.41,486.18 588.61,486.13" fill="#7A6418"/><circle cx="590.25" cy="488.4" r="3.9" fill="#D83A2E" stroke="#7A6418" stroke-width="0.6"/>
<text x="597.25" y="492.5">6:42pm</text>
<polygon points="666.90,481.20 668.55,486.13 673.75,486.18 669.57,489.27 671.14,494.22 666.90,491.20 662.67,494.22 664.24,489.27 660.06,486.18 665.26,486.13" fill="#7A6418"/><circle cx="666.90" cy="488.4" r="3.9" fill="#D83A2E" stroke="#7A6418" stroke-width="0.6"/>
<text x="673.90" y="492.5">6:43pm</text>
<circle cx="178.54" cy="501.8" r="5.1" fill="#FFFFC8" stroke="#9A9A9A" stroke-width="1"/>
<text x="185.54" y="505.5">9:42am</text>
<circle cx="258.22" cy="501.8" r="5.1" fill="#FFFFC8" stroke="#9A9A9A" stroke-width="1"/>
<text x="265.22" y="505.5">10:40am</text>
<circle cx="337.85" cy="501.8" r="5.1" fill="#FFFFC8" stroke="#9A9A9A" stroke-width="1"/>
<text x="344.85" y="505.5">11:37am</text>
<circle cx="417.32" cy="501.8" r="5.1" fill="#FFFFC8" stroke="#9A9A9A" stroke-width="1"/>
<text x="424.32" y="505.5">12:31pm</text>
<circle cx="496.79" cy="501.8" r="5.1" fill="#FFFFC8" stroke="#9A9A9A" stroke-width="1"/>
<text x="503.79" y="505.5">1:25pm</text>
<circle cx="576.21" cy="501.8" r="5.1" fill="#FFFFC8" stroke="#9A9A9A" stroke-width="1"/>
<text x="583.21" y="505.5">2:18pm</text>
<circle cx="655.63" cy="501.8" r="5.1" fill="#FFFFC8" stroke="#9A9A9A" stroke-width="1"/>
<text x="662.63" y="505.5">3:11pm</text>
<circle cx="140.72" cy="515.5" r="5.1" fill="#C6C4B8" stroke="#7A7A7A" stroke-width="1"/>
<text x="147.72" y="519.4">9:51pm</text>
<circle cx="219.39" cy="515.5" r="5.1" fill="#C6C4B8" stroke="#7A7A7A" stroke-width="1"/>
<text x="226.39" y="519.4">10:30pm</text>
<circle cx="297.90" cy="515.5" r="5.1" fill="#C6C4B8" stroke="#7A7A7A" stroke-width="1"/>
<text x="304.90" y="519.4">11:06pm</text>
<circle cx="376.36" cy="515.5" r="5.1" fill="#C6C4B8" stroke="#7A7A7A" stroke-width="1"/>
<text x="383.36" y="519.4">11:41pm</text>
<circle cx="454.82" cy="515.5" r="5.1" fill="#C6C4B8" stroke="#7A7A7A" stroke-width="1"/>
<text x="461.82" y="519.4">12:16am</text>
<circle cx="533.28" cy="515.5" r="5.1" fill="#C6C4B8" stroke="#7A7A7A" stroke-width="1"/>
<text x="540.28" y="519.4">12:51am</text>
<circle cx="611.90" cy="515.5" r="5.1" fill="#C6C4B8" stroke="#7A7A7A" stroke-width="1"/>
<text x="618.90" y="519.4">1:29am</text>
<circle cx="690.63" cy="515.5" r="5.1" fill="#C6C4B8" stroke="#7A7A7A" stroke-width="1"/>
<text x="697.63" y="519.4">2:09am</text>
<text x="346.26" y="532.5" text-anchor="end">First Quarter</text><text x="348.76" y="532.5">|3:19pm</text>
</g>
</svg>
</body></html>
